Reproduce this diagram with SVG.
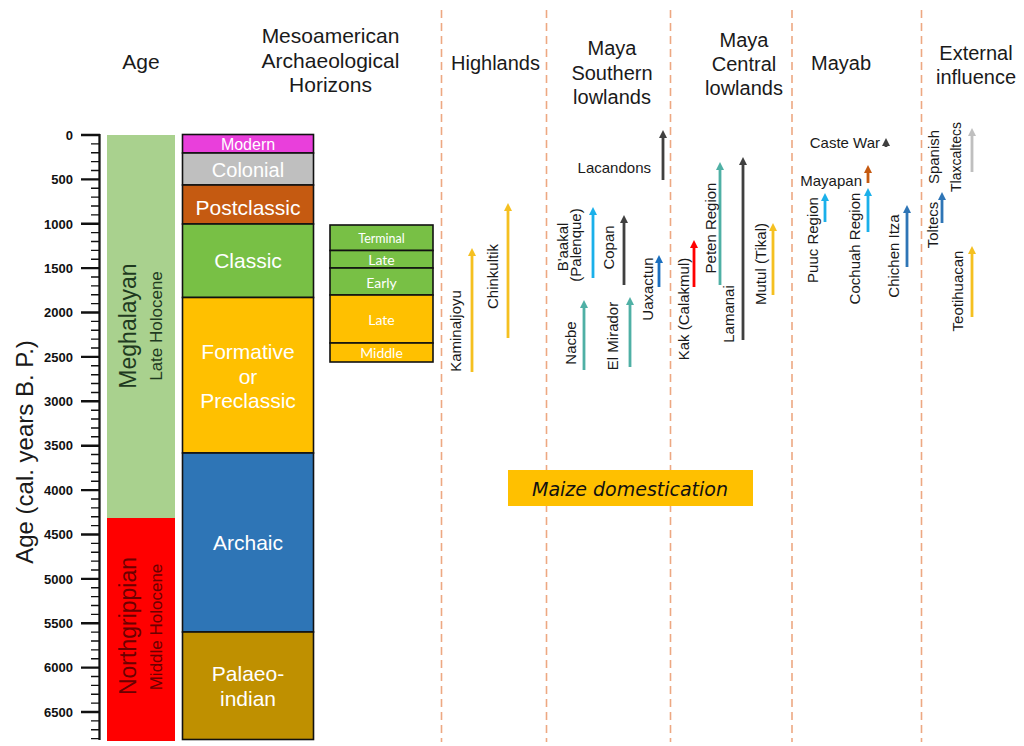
<svg xmlns="http://www.w3.org/2000/svg" width="1024" height="746" viewBox="0 0 1024 746">
<style>
text{font-family:"Liberation Sans",Arial,sans-serif}
.hdr{font-size:20px;fill:#1a1a1a;text-anchor:middle}
.tick{font-size:13px;font-weight:bold;fill:#111;text-anchor:end}
.hz{fill:#fff;text-anchor:middle}
.sub{fill:#fff;text-anchor:middle;font-family:Lato,"Liberation Sans",sans-serif}
.box{stroke:#111;stroke-width:1.6}
.site{font-size:15px;fill:#1a1a1a}
.rot{font-size:15px;fill:#1a1a1a;text-anchor:middle}
.dash{stroke:#eda882;stroke-width:1.6;stroke-dasharray:8 5;fill:none}
.arr{stroke-width:2.8;fill:none}
</style>
<defs>
<marker id="m-yel" viewBox="0 0 10 10" refX="2" refY="5" markerWidth="8" markerHeight="8" markerUnits="userSpaceOnUse" orient="auto"><path d="M0,0 L10,5 L0,10 z" fill="#f5c020"/></marker>
<marker id="m-teal" viewBox="0 0 10 10" refX="2" refY="5" markerWidth="8" markerHeight="8" markerUnits="userSpaceOnUse" orient="auto"><path d="M0,0 L10,5 L0,10 z" fill="#4fb0a5"/></marker>
<marker id="m-lblue" viewBox="0 0 10 10" refX="2" refY="5" markerWidth="8" markerHeight="8" markerUnits="userSpaceOnUse" orient="auto"><path d="M0,0 L10,5 L0,10 z" fill="#1ab0ea"/></marker>
<marker id="m-dblue" viewBox="0 0 10 10" refX="2" refY="5" markerWidth="8" markerHeight="8" markerUnits="userSpaceOnUse" orient="auto"><path d="M0,0 L10,5 L0,10 z" fill="#1a6fc0"/></marker>
<marker id="m-blue" viewBox="0 0 10 10" refX="2" refY="5" markerWidth="8" markerHeight="8" markerUnits="userSpaceOnUse" orient="auto"><path d="M0,0 L10,5 L0,10 z" fill="#2e75b6"/></marker>
<marker id="m-dark" viewBox="0 0 10 10" refX="2" refY="5" markerWidth="8" markerHeight="8" markerUnits="userSpaceOnUse" orient="auto"><path d="M0,0 L10,5 L0,10 z" fill="#404040"/></marker>
<marker id="m-red" viewBox="0 0 10 10" refX="2" refY="5" markerWidth="8" markerHeight="8" markerUnits="userSpaceOnUse" orient="auto"><path d="M0,0 L10,5 L0,10 z" fill="#ff0000"/></marker>
<marker id="m-orange" viewBox="0 0 10 10" refX="2" refY="5" markerWidth="8" markerHeight="8" markerUnits="userSpaceOnUse" orient="auto"><path d="M0,0 L10,5 L0,10 z" fill="#c55a11"/></marker>
<marker id="m-gray" viewBox="0 0 10 10" refX="2" refY="5" markerWidth="8" markerHeight="8" markerUnits="userSpaceOnUse" orient="auto"><path d="M0,0 L10,5 L0,10 z" fill="#bfbfbf"/></marker>
</defs>
<rect width="1024" height="746" fill="#fff"/>

<g id="dividers">
<line class="dash" x1="441.5" y1="10" x2="441.5" y2="742"/>
<line class="dash" x1="546.5" y1="10" x2="546.5" y2="742"/>
<line class="dash" x1="670.5" y1="10" x2="670.5" y2="742"/>
<line class="dash" x1="792" y1="10" x2="792" y2="742"/>
<line class="dash" x1="921.5" y1="10" x2="921.5" y2="742"/>
</g>

<g id="headers">
<text class="hdr" x="141" y="69" style="font-size:21px">Age</text>
<text class="hdr" x="330.5" y="43" style="font-size:21px">Mesoamerican</text>
<text class="hdr" x="330.5" y="67.5" style="font-size:21px">Archaeological</text>
<text class="hdr" x="330.5" y="92" style="font-size:21px">Horizons</text>
<text class="hdr" x="495.5" y="70">Highlands</text>
<text class="hdr" x="612" y="55">Maya</text>
<text class="hdr" x="612" y="80">Southern</text>
<text class="hdr" x="612" y="104">lowlands</text>
<text class="hdr" x="744" y="47">Maya</text>
<text class="hdr" x="744" y="71">Central</text>
<text class="hdr" x="744" y="95">lowlands</text>
<text class="hdr" x="841" y="70">Mayab</text>
<text class="hdr" x="976" y="60">External</text>
<text class="hdr" x="976" y="84">influence</text>
</g>

<g id="age-axis">
<text transform="translate(33,452) rotate(-90)" style="font-size:24px;fill:#1a1a1a;text-anchor:middle">Age (cal. years B. P.)</text>
<line x1="99.5" y1="134" x2="99.5" y2="740" stroke="#111" stroke-width="2.3"/>
<path stroke="#111" stroke-width="2.4" fill="none" d="M81,135H100M81,179.38H100M81,223.77H100M81,268.15H100M81,312.54H100M81,356.92H100M81,401.31H100M81,445.69H100M81,490.08H100M81,534.46H100M81,578.85H100M81,623.23H100M81,667.61H100M81,712H100"/>
<path stroke="#111" stroke-width="1.4" fill="none" d="M91,143.88H100M91,152.75H100M91,161.63H100M91,170.51H100M91,188.26H100M91,197.14H100M91,206.02H100M91,214.89H100M91,232.65H100M91,241.52H100M91,250.4H100M91,259.28H100M91,277.03H100M91,285.91H100M91,294.78H100M91,303.66H100M91,321.41H100M91,330.29H100M91,339.17H100M91,348.05H100M91,365.8H100M91,374.68H100M91,383.55H100M91,392.43H100M91,410.18H100M91,419.06H100M91,427.94H100M91,436.81H100M91,454.57H100M91,463.44H100M91,472.32H100M91,481.2H100M91,498.95H100M91,507.83H100M91,516.71H100M91,525.58H100M91,543.34H100M91,552.21H100M91,561.09H100M91,569.97H100M91,587.72H100M91,596.6H100M91,605.47H100M91,614.35H100M91,632.11H100M91,640.98H100M91,649.86H100M91,658.74H100M91,676.49H100M91,685.37H100M91,694.24H100M91,703.12H100M91,720.88H100M91,729.75H100M91,738.63H100"/>
<text class="tick" x="73" y="139.5">0</text>
<text class="tick" x="73" y="184">500</text>
<text class="tick" x="73" y="228.5">1000</text>
<text class="tick" x="73" y="272.5">1500</text>
<text class="tick" x="73" y="317">2000</text>
<text class="tick" x="73" y="361.5">2500</text>
<text class="tick" x="73" y="406">3000</text>
<text class="tick" x="73" y="450">3500</text>
<text class="tick" x="73" y="494.5">4000</text>
<text class="tick" x="73" y="539">4500</text>
<text class="tick" x="73" y="583.5">5000</text>
<text class="tick" x="73" y="628">5500</text>
<text class="tick" x="73" y="672">6000</text>
<text class="tick" x="73" y="716.5">6500</text>
</g>

<g id="meghalayan">
<rect x="107" y="135" width="68" height="383" fill="#a9d18e"/>
<text transform="translate(136,326) rotate(-90)" style="font-size:23px;fill:#1f3a1f;text-anchor:middle">Meghalayan</text>
<text transform="translate(162,326) rotate(-90)" style="font-size:17px;fill:#1f3a1f;text-anchor:middle">Late Holocene</text>
</g>
<g id="northgrippian">
<rect x="107" y="518" width="68" height="223" fill="#ff0000"/>
<text transform="translate(136,626) rotate(-90)" style="font-size:23px;fill:#6b0000;text-anchor:middle">Northgrippian</text>
<text transform="translate(162,627) rotate(-90)" style="font-size:17px;fill:#6b0000;text-anchor:middle">Middle Holocene</text>
</g>

<g id="modern"><rect class="box" x="182.5" y="134.5" width="131" height="18.5" fill="#e93fdb"/><text class="hz" x="248" y="149.5" style="font-size:16px">Modern</text></g>
<g id="colonial"><rect class="box" x="182.5" y="153" width="131" height="32" fill="#bfbfbf"/><text class="hz" x="248" y="177" style="font-size:20px">Colonial</text></g>
<g id="postclassic"><rect class="box" x="182.5" y="185" width="131" height="39" fill="#c55a11"/><text class="hz" x="248" y="215" style="font-size:21px">Postclassic</text></g>
<g id="classic"><rect class="box" x="182.5" y="224" width="131" height="73.5" fill="#78c045"/><text class="hz" x="248" y="268" style="font-size:21px">Classic</text></g>
<g id="formative"><rect class="box" x="182.5" y="297.5" width="131" height="155.5" fill="#ffc000"/><text class="hz" x="248" y="359" style="font-size:21px">Formative</text><text class="hz" x="248" y="383.5" style="font-size:21px">or</text><text class="hz" x="248" y="408" style="font-size:21px">Preclassic</text></g>
<g id="archaic"><rect class="box" x="182.5" y="453" width="131" height="179" fill="#2e75b6"/><text class="hz" x="248" y="550" style="font-size:21px">Archaic</text></g>
<g id="palaeoindian"><rect class="box" x="182.5" y="632" width="131" height="107.5" fill="#bf9000"/><text class="hz" x="248" y="681" style="font-size:21px">Palaeo-</text><text class="hz" x="248" y="706" style="font-size:21px">indian</text></g>

<g id="terminal"><rect class="box" x="330" y="225" width="103" height="25.5" fill="#78c045"/><text class="sub" x="381.5" y="243" style="font-size:12.5px">Terminal</text></g>
<g id="late-classic"><rect class="box" x="330" y="250.5" width="103" height="17.5" fill="#78c045"/><text class="sub" x="381.5" y="265" style="font-size:14px">Late</text></g>
<g id="early-classic"><rect class="box" x="330" y="268" width="103" height="27" fill="#78c045"/><text class="sub" x="381.5" y="287.5" style="font-size:14px">Early</text></g>
<g id="late-formative"><rect class="box" x="330" y="295" width="103" height="48" fill="#ffc000"/><text class="sub" x="381.5" y="325" style="font-size:14px">Late</text></g>
<g id="middle-formative"><rect class="box" x="330" y="343" width="103" height="19" fill="#ffc000"/><text class="sub" x="381.5" y="357.5" style="font-size:14px">Middle</text></g>

<g id="maize"><rect x="508" y="470" width="245" height="36" fill="#ffc000"/><text x="630" y="496" style="font-family:'Comic Sans MS','DejaVu Sans',sans-serif;font-style:italic;font-size:19px;fill:#111;text-anchor:middle">Maize domestication</text></g>

<g id="connectors">
<line class="arr" stroke="#f5c020" x1="472" y1="372" x2="472" y2="254.4" marker-end="url(#m-yel)"/>
<line class="arr" stroke="#f5c020" x1="508" y1="338" x2="508" y2="209.4" marker-end="url(#m-yel)"/>
<line class="arr" stroke="#404040" x1="663" y1="180" x2="663" y2="136.4" marker-end="url(#m-dark)"/>
<line class="arr" stroke="#1ab0ea" x1="593" y1="278" x2="593" y2="213.4" marker-end="url(#m-lblue)"/>
<line class="arr" stroke="#404040" x1="624" y1="285" x2="624" y2="221.4" marker-end="url(#m-dark)"/>
<line class="arr" stroke="#1a6fc0" x1="659" y1="287" x2="659" y2="261.4" marker-end="url(#m-dblue)"/>
<line class="arr" stroke="#4fb0a5" x1="584" y1="370" x2="584" y2="306.4" marker-end="url(#m-teal)"/>
<line class="arr" stroke="#4fb0a5" x1="630" y1="367" x2="630" y2="303.4" marker-end="url(#m-teal)"/>
<line class="arr" stroke="#ff0000" x1="694" y1="287" x2="694" y2="246.4" marker-end="url(#m-red)"/>
<line class="arr" stroke="#4fb0a5" x1="720" y1="285" x2="720" y2="168.4" marker-end="url(#m-teal)"/>
<line class="arr" stroke="#404040" x1="743" y1="340" x2="743" y2="163.4" marker-end="url(#m-dark)"/>
<line class="arr" stroke="#f5c020" x1="773" y1="295" x2="773" y2="229.4" marker-end="url(#m-yel)"/>
<line class="arr" stroke="#404040" x1="886" y1="147" x2="886" y2="144.4" marker-end="url(#m-dark)"/>
<line class="arr" stroke="#c55a11" x1="868" y1="183" x2="868" y2="171.4" marker-end="url(#m-orange)"/>
<line class="arr" stroke="#1ab0ea" x1="825" y1="222" x2="825" y2="199.4" marker-end="url(#m-lblue)"/>
<line class="arr" stroke="#1ab0ea" x1="868" y1="232" x2="868" y2="194.4" marker-end="url(#m-lblue)"/>
<line class="arr" stroke="#2e75b6" x1="907" y1="267" x2="907" y2="211.4" marker-end="url(#m-blue)"/>
<line class="arr" stroke="#2e75b6" x1="942" y1="223" x2="942" y2="198.4" marker-end="url(#m-blue)"/>
<line class="arr" stroke="#bfbfbf" x1="972" y1="172" x2="972" y2="134.4" marker-end="url(#m-gray)"/>
<line class="arr" stroke="#f5c020" x1="972" y1="317" x2="972" y2="252.4" marker-end="url(#m-yel)"/>
</g>

<g id="site-labels">
<text class="rot" transform="translate(461,331) rotate(-90)">Kaminaljoyu</text>
<text class="rot" transform="translate(498,276.5) rotate(-90)">Chinkultik</text>
<text class="site" x="651" y="173" text-anchor="end">Lacandons</text>
<text class="rot" transform="translate(568,247) rotate(-90)">B'aakal</text>
<text class="rot" transform="translate(581,245) rotate(-90)">(Palenque)</text>
<text class="rot" transform="translate(614,247.5) rotate(-90)">Copan</text>
<text class="rot" transform="translate(653,289) rotate(-90)">Uaxactun</text>
<text class="rot" transform="translate(576,343) rotate(-90)">Nacbe</text>
<text class="rot" transform="translate(618,336) rotate(-90)">El Mirador</text>
<text class="rot" transform="translate(689,309) rotate(-90)">Kak (Calakmul)</text>
<text class="rot" transform="translate(716,228) rotate(-90)">Peten Region</text>
<text class="rot" transform="translate(734,314) rotate(-90)">Lamanai</text>
<text class="rot" transform="translate(766,264) rotate(-90)">Mutul (Tikal)</text>
<text class="site" x="880" y="148" text-anchor="end">Caste War</text>
<text class="site" x="862" y="186" text-anchor="end">Mayapan</text>
<text class="rot" transform="translate(818,240) rotate(-90)">Puuc Region</text>
<text class="rot" transform="translate(860,248.5) rotate(-90)">Cochuah Region</text>
<text class="rot" transform="translate(899,256) rotate(-90)">Chichen Itza</text>
<text class="rot" transform="translate(938,225) rotate(-90)">Toltecs</text>
<text class="rot" transform="translate(939,157) rotate(-90)">Spanish</text>
<text class="rot" transform="translate(961,157) rotate(-90)" style="font-size:14px">Tlaxcaltecs</text>
<text class="rot" transform="translate(963,291) rotate(-90)">Teotihuacan</text>
</g>
</svg>
